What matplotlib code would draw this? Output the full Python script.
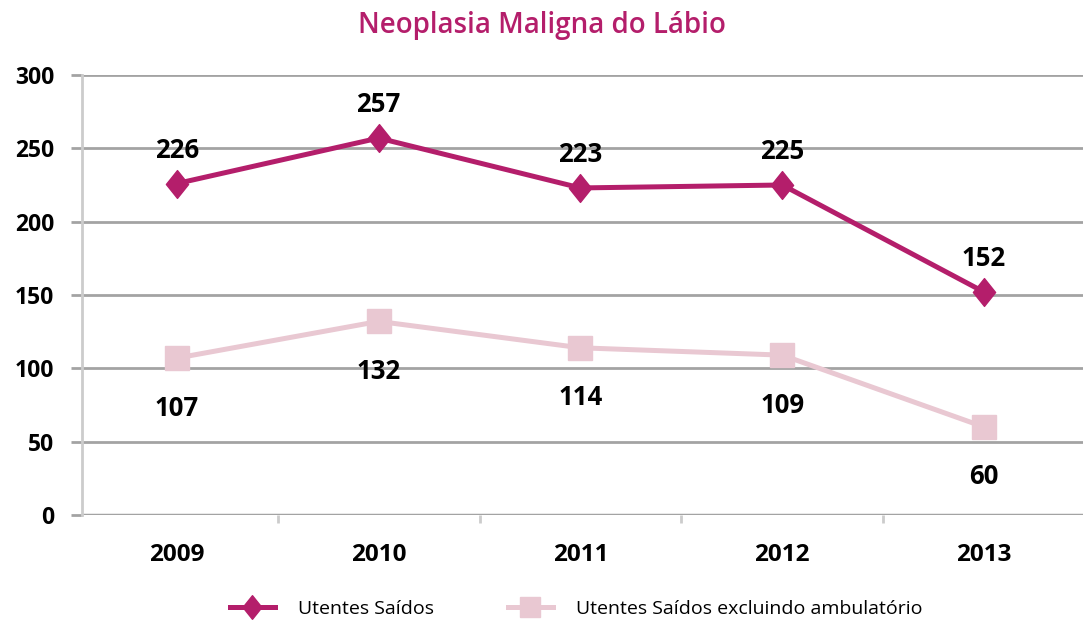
import matplotlib
matplotlib.use("Agg")
import matplotlib.pyplot as plt
from matplotlib.path import Path

plt.rcParams['font.family'] = ['Open Sans', 'DejaVu Sans']

anos = ['2009', '2010', '2011', '2012', '2013']
saidos = [226, 257, 223, 225, 152]
saidos_sem_amb = [107, 132, 114, 109, 60]

cor_forte = '#b41e6b'
cor_clara = '#e9c8d2'
cor_grelha = '#a3a3a3'

diamante = Path([(0, 1), (0.8, 0), (0, -1), (-0.8, 0), (0, 1)],
                [Path.MOVETO, Path.LINETO, Path.LINETO, Path.LINETO, Path.CLOSEPOLY])

fig = plt.figure(figsize=(10.83, 6.28), dpi=100)
ax = fig.add_axes([82 / 1083, 1 - 515 / 628, 1 - 82 / 1083, 440 / 628])

x = list(range(len(anos)))
ax.plot(x, saidos_sem_amb, color=cor_clara, lw=3.6, marker='s', markersize=17,
        label='Utentes Saídos excluindo ambulatório', zorder=3)
ax.plot(x, saidos, color=cor_forte, lw=3.6, marker=diamante, markersize=20,
        label='Utentes Saídos', zorder=4)

for i, v in enumerate(saidos):
    ax.annotate(str(v), (i, v), xytext=(0, 24), textcoords='offset points',
                ha='center', va='center', fontsize=18.5, fontweight='bold')
for i, v in enumerate(saidos_sem_amb):
    ax.annotate(str(v), (i, v), xytext=(0, -36), textcoords='offset points',
                ha='center', va='center', fontsize=18.5, fontweight='bold')

ax.set_ylim(0, 300)
ax.set_xlim(-0.47, 4.49)
ax.set_yticks(range(0, 301, 50))
ax.set_xticks(x)
ax.set_xticklabels(anos)
ax.set_xticks([i + 0.5 for i in range(len(anos) - 1)], minor=True)

ax.grid(axis='y', color=cor_grelha, lw=2)
ax.set_axisbelow(True)
for s in ['top', 'right', 'bottom']:
    ax.spines[s].set_visible(False)
ax.spines['left'].set_color('#cccccc')
ax.spines['left'].set_linewidth(2)
ax.axhline(0, color=cor_grelha, lw=2.5, zorder=2)

ax.tick_params(axis='y', length=8, width=2, color=cor_grelha, pad=12,
               labelsize=16.5)
ax.tick_params(axis='x', which='major', length=0, pad=20, labelsize=17.5)
ax.tick_params(axis='x', which='minor', length=6, width=2, color='#cccccc')
for lab in ax.get_xticklabels() + ax.get_yticklabels():
    lab.set_fontweight('bold')

fig.text(0.5, 1 - 26 / 628, 'Neoplasia Maligna do Lábio', ha='center',
         va='center', fontsize=20, color=cor_forte, fontweight='semibold')

h, l = ax.get_legend_handles_labels()
fig.legend(h[::-1], l[::-1], loc='lower center', bbox_to_anchor=(0.532, -0.012),
           ncol=2, frameon=False, fontsize=14, handlelength=2.3,
           columnspacing=3.8, handletextpad=1.2, markerscale=0.85)

fig.savefig('out.png', dpi=100)
